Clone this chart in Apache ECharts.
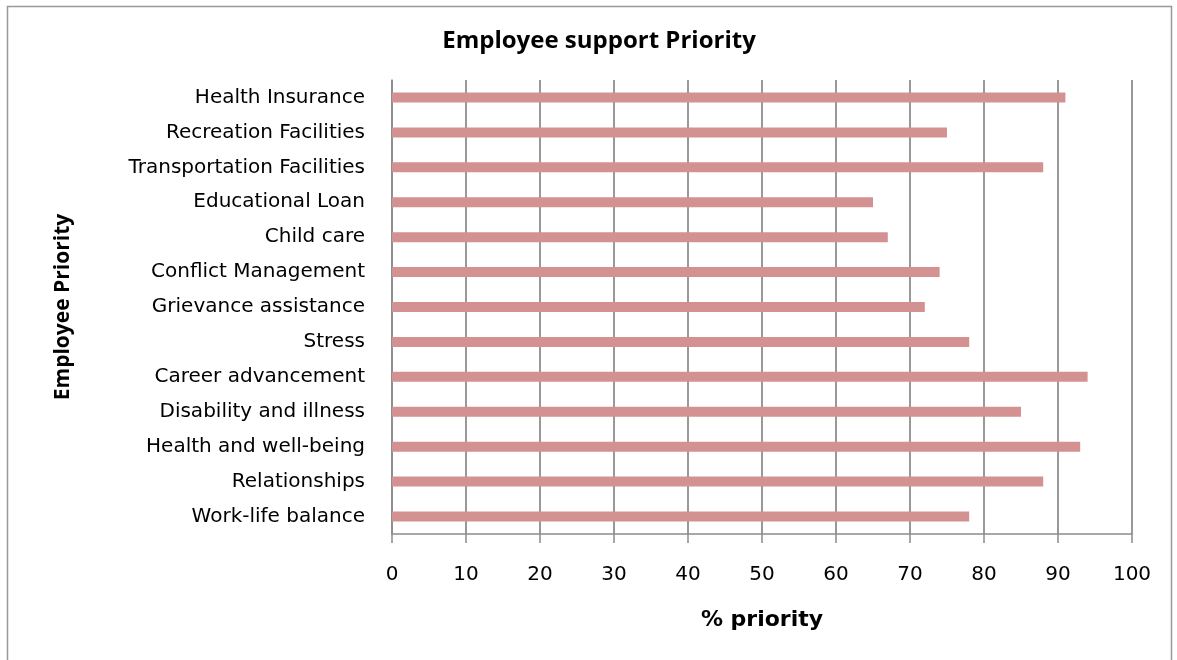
<!DOCTYPE html>
<html><head><meta charset="utf-8">
<script src="https://cdn.jsdelivr.net/npm/echarts@6/dist/echarts.min.js"></script>
<style>html,body{margin:0;padding:0;background:#fff}#c{width:1177px;height:660px}</style>
</head><body><div id="c"></div>
<script>
const categories = ["Health Insurance","Recreation Facilities","Transportation Facilities","Educational Loan","Child care","Conflict Management","Grievance assistance","Stress","Career advancement","Disability and illness","Health and well-being","Relationships","Work-life balance"];
const values = [91,75,88,65,67,74,72,78,94,85,93,88,78];
const xTicks = [0,10,20,30,40,50,60,70,80,90,100];

const chart = echarts.init(document.getElementById('c'));
chart.setOption({
  animation:false,
  backgroundColor:'#fff',
  title:{text:'Employee support Priority',left:594,top:24,textAlign:'center',
    textStyle:{fontFamily:'Open Sans',fontWeight:'bold',fontSize:24,color:'#000'}},
  graphic:[{type:'rect',shape:{x:7.5,y:6.5,width:1164,height:700},style:{fill:'none',stroke:'#999',lineWidth:1.5}}],
  grid:{left:392,right:45,top:80,bottom:126},
  xAxis:{type:'value',min:xTicks[0],max:xTicks[xTicks.length-1],interval:10,
    name:'% priority',nameLocation:'middle',nameGap:75,
    nameTextStyle:{fontFamily:'DejaVu Sans',fontWeight:'bold',fontSize:22,color:'#000'},
    axisLine:{show:true,lineStyle:{color:'#8c8c8c',width:1.5}},
    axisTick:{show:true,length:9,lineStyle:{color:'#8c8c8c',width:1.5}},
    axisLabel:{margin:31,fontFamily:'DejaVu Sans',fontSize:20,color:'#000'},
    splitLine:{show:true,lineStyle:{color:'#999',width:2}}},
  yAxis:{type:'category',data:categories,inverse:true,
    name:'Employee Priority',nameLocation:'middle',nameGap:318,nameRotate:90,
    nameTextStyle:{fontFamily:'Open Sans',fontWeight:'bold',fontSize:21,color:'#000'},
    axisLine:{show:true,lineStyle:{color:'#8c8c8c',width:1.5}},
    axisTick:{show:false},
    axisLabel:{margin:27,fontFamily:'DejaVu Sans',fontSize:20,color:'#000'}},
  series:[{type:'bar',data:values,barWidth:10,itemStyle:{color:'#d39191'}}]
});
</script></body></html>
